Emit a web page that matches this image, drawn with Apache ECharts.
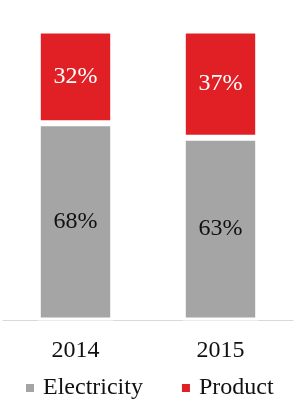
<!DOCTYPE html>
<html>
<head>
<meta charset="utf-8">
<script src="https://cdn.jsdelivr.net/npm/echarts@6/dist/echarts.min.js"></script>
<style>html,body{margin:0;padding:0;background:#fff;}#c{width:308px;height:420px;}</style>
</head>
<body>
<div id="c"></div>
<script>
const categories = ['2014', '2015'];
const electricity = [68, 63];
const product = [32, 37];
const seriesNames = ['Electricity', 'Product'];

const chart = echarts.init(document.getElementById('c'), null, {renderer: 'canvas'});
const font = '"Liberation Serif", "Times New Roman", serif';
chart.setOption({
  animation: false,
  grid: {left: 3, right: 15, top: 30.5, bottom: 99.5, containLabel: false},
  legend: {
    data: seriesNames,
    left: 26, top: 376, padding: 0,
    icon: 'rect', itemWidth: 8, itemHeight: 8, itemGap: 39,
    itemStyle: {borderWidth: 0},
    textStyle: {fontFamily: font, fontSize: 24, color: '#111', padding: [0, 0, 0, 4]}
  },
  xAxis: {
    type: 'category', data: categories,
    axisLine: {lineStyle: {color: '#d9d9d9', width: 1}},
    axisTick: {show: false},
    axisLabel: {fontFamily: font, fontSize: 24, color: '#111', margin: 18}
  },
  yAxis: {type: 'value', min: 0, max: 100, show: false},
  series: [
    {
      name: seriesNames[0], type: 'bar', stack: 'a', data: electricity, barWidth: '52%',
      itemStyle: {color: '#a5a5a5', borderColor: '#fff', borderWidth: 3},
      label: {show: true, position: 'inside', formatter: '{c}%', fontFamily: font, fontSize: 24, color: '#111'}
    },
    {
      name: seriesNames[1], type: 'bar', stack: 'a', data: product, barWidth: '52%',
      itemStyle: {color: '#e12026', borderColor: '#fff', borderWidth: 3},
      label: {show: true, position: 'inside', formatter: '{c}%', fontFamily: font, fontSize: 24, color: '#fff'}
    }
  ]
});
</script>
</body>
</html>
